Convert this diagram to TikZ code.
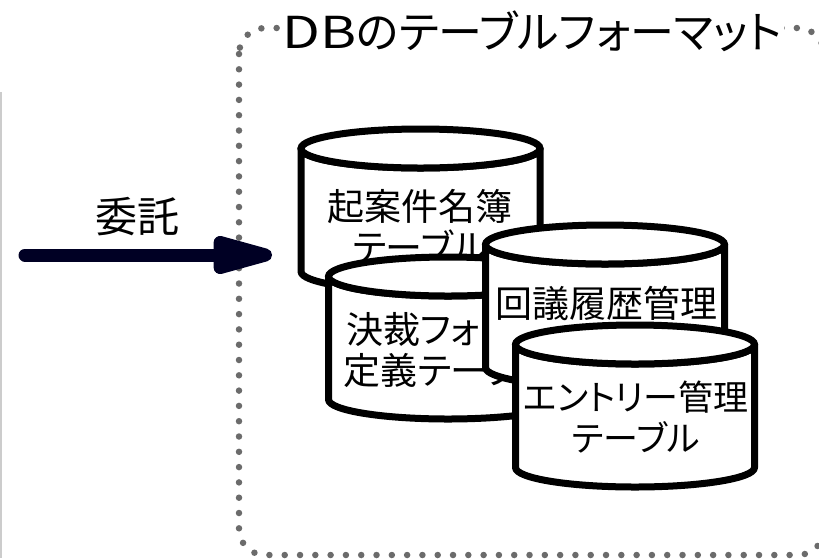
\documentclass[tikz,border=0pt]{standalone}
\usepackage{fontspec}
\setmainfont[RawFeature=+palt]{Noto Sans CJK JP}
\usetikzlibrary{arrows.meta}

\tikzset{
    dbtable/.pic={
        \draw[line width=7pt, line join=round, fill=white] (-119.5,0)
            arc[start angle=180, end angle=360, x radius=119.5pt, y radius=19.5pt] -- (119.5,123)
            arc[start angle=0, end angle=-180, x radius=119.5pt, y radius=19.5pt] -- cycle;
        \draw[line width=7pt, fill=white] (0,0) ellipse[x radius=119.5pt, y radius=19.5pt];
    },
    tablename/.style={inner sep=0pt, align=center, font=\fontsize{37}{41}\selectfont},
    frameline/.style={draw=black!58, line width=6.5pt, line cap=round,
        dash pattern=on 0pt off 15.3pt},
}

\begin{document}
\begin{tikzpicture}[x=1pt,y=-1pt]

    \clip (0,0) rectangle (819,558);

    \draw[black!20, line width=4pt] (0,92) -- (0,558);

    % frame
    \draw[frameline, rounded corners=26pt] (239,28) rectangle (824,555);
    \node[fill=white, inner sep=0pt, minimum width=504pt, minimum height=46pt,
        font=\fontsize{44}{44}\selectfont] (title) at (532,31) {\scalebox{1.25}[1]{DB}のテーブルフォーマット};

    % tables
    \pic at (420.5,148.5) {dbtable};
    \node[tablename] (meibo) at (420,226) {起案件名簿\\テーブル};
    \pic at (448,276.5) {dbtable};
    \node[tablename] (kessai) at (448,350) {決裁フォーム\\定義テーブル};
    \pic at (605,244.5) {dbtable};
    \node[tablename] (rireki) at (606,303) {回議履歴管理};
    \pic at (635,344.5) {dbtable};
    \node[tablename, font=\fontsize{35}{41}\selectfont] (entry) at (636,417) {エントリー管理\\テーブル};

    % arrow
    \coordinate (from) at (25,255);
    \coordinate (to) at (272,255);
    \draw[line width=13pt, line cap=round, color=black!60!blue!35!black,
        -{Triangle[length=80pt, width=38pt, round]}] (from) -- (to);
    \node[font=\fontsize{42}{42}\selectfont] (itaku) at (137,217) {委託};

\end{tikzpicture}
\end{document}
